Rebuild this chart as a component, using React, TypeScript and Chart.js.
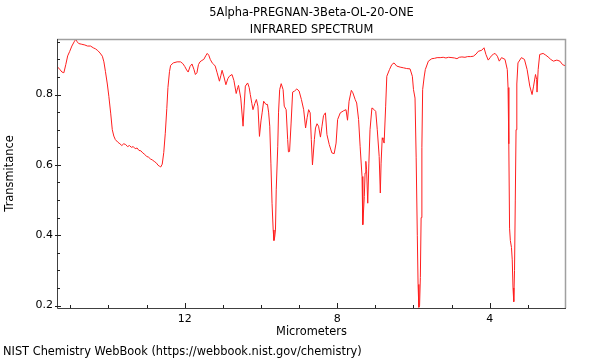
import { useEffect, useRef } from "react";
import { Chart, registerables } from "chart.js";

Chart.register(...registerables);

const wavelengths = [
  15.34, 15.28, 15.22, 15.17, 15.12, 15.07, 15.02, 14.96, 14.9, 14.86, 14.82, 14.78, 14.7, 14.62, 14.55, 14.47, 14.4, 14.34, 14.28, 14.22,
  14.16, 14.12, 14.08, 14.03, 13.99, 13.94, 13.9, 13.86, 13.82, 13.76, 13.7, 13.65, 13.6, 13.55, 13.5, 13.45, 13.4, 13.35, 13.3, 13.25,
  13.2, 13.15, 13.1, 13.05, 13.0, 12.95, 12.9, 12.85, 12.8, 12.74, 12.7, 12.66, 12.63, 12.59, 12.55, 12.51, 12.47, 12.44, 12.4, 12.37,
  12.3, 12.2, 12.11, 12.05, 12.0, 11.95, 11.91, 11.86, 11.81, 11.76, 11.72, 11.68, 11.64, 11.6, 11.55, 11.5, 11.45, 11.41, 11.37, 11.33,
  11.28, 11.24, 11.2, 11.15, 11.09, 11.05, 11.02, 10.97, 10.92, 10.87, 10.83, 10.76, 10.71, 10.65, 10.61, 10.59, 10.53, 10.47, 10.44, 10.41,
  10.35, 10.31, 10.28, 10.24, 10.21, 10.16, 10.12, 10.08, 10.04, 10.0, 9.97, 9.93, 9.87, 9.83, 9.8, 9.77, 9.74, 9.71, 9.68, 9.66,
  9.64, 9.62, 9.6, 9.56, 9.54, 9.51, 9.47, 9.42, 9.39, 9.34, 9.3, 9.28, 9.25, 9.21, 9.17, 9.12, 9.06, 9.0, 8.94, 8.88,
  8.83, 8.79, 8.75, 8.71, 8.68, 8.65, 8.6, 8.57, 8.53, 8.49, 8.44, 8.4, 8.36, 8.31, 8.27, 8.21, 8.14, 8.08, 8.03, 7.99,
  7.92, 7.83, 7.77, 7.73, 7.69, 7.63, 7.59, 7.53, 7.49, 7.44, 7.4, 7.35, 7.33, 7.29, 7.27, 7.25, 7.23, 7.2, 7.17, 7.14,
  7.09, 7.03, 6.99, 6.95, 6.9, 6.87, 6.85, 6.82, 6.8, 6.77, 6.73, 6.7, 6.63, 6.57, 6.51, 6.44, 6.35, 6.26, 6.18, 6.09,
  6.03, 6.0, 5.96, 5.93, 5.9, 5.88, 5.86, 5.84, 5.82, 5.8, 5.78, 5.76, 5.72, 5.69, 5.61, 5.52, 5.45, 5.38, 5.3, 5.22, 5.15, 5.08,
  4.99, 4.92, 4.86, 4.8, 4.73, 4.65, 4.58, 4.5, 4.43, 4.36, 4.3, 4.21, 4.15, 4.1, 4.04, 3.99, 3.95, 3.9, 3.86, 3.8,
  3.75, 3.69, 3.6, 3.54, 3.52, 3.5, 3.48, 3.46, 3.43, 3.41, 3.39, 3.37, 3.35, 3.33, 3.31, 3.29, 3.26, 3.17, 3.09, 3.02, 2.95, 2.89,
  2.85, 2.8, 2.77, 2.76, 2.73, 2.69, 2.6, 2.53, 2.47, 2.4, 2.33, 2.24, 2.16, 2.09, 2.02,
];

const transmittance = [
  0.879, 0.872, 0.864, 0.862, 0.885, 0.91, 0.922, 0.938, 0.95, 0.957, 0.95, 0.945, 0.943, 0.941, 0.938, 0.938, 0.933, 0.93, 0.925, 0.918,
  0.909, 0.893, 0.866, 0.83, 0.795, 0.745, 0.7, 0.682, 0.672, 0.665, 0.66, 0.655, 0.66, 0.658, 0.652, 0.655, 0.65, 0.652, 0.646, 0.648,
  0.641, 0.64, 0.634, 0.63, 0.624, 0.622, 0.617, 0.614, 0.61, 0.605, 0.599, 0.596, 0.594, 0.602, 0.635, 0.69, 0.76, 0.82, 0.865, 0.883,
  0.89, 0.893, 0.893, 0.888, 0.88, 0.87, 0.864, 0.88, 0.887, 0.872, 0.857, 0.862, 0.885, 0.893, 0.897, 0.9, 0.91, 0.917, 0.912, 0.9,
  0.89, 0.886, 0.881, 0.862, 0.838, 0.855, 0.869, 0.85, 0.828, 0.845, 0.852, 0.857, 0.84, 0.803, 0.82, 0.826, 0.79, 0.71, 0.77, 0.824,
  0.833, 0.82, 0.8, 0.775, 0.757, 0.775, 0.786, 0.767, 0.681, 0.725, 0.748, 0.781, 0.772, 0.772, 0.75, 0.71, 0.605, 0.491, 0.415, 0.385,
  0.395, 0.415, 0.529, 0.653, 0.748, 0.814, 0.831, 0.814, 0.767, 0.757, 0.672, 0.637, 0.638, 0.719, 0.807, 0.81, 0.816, 0.81, 0.786, 0.757,
  0.705, 0.734, 0.757, 0.748, 0.672, 0.6, 0.672, 0.705, 0.717, 0.71, 0.679, 0.71, 0.74, 0.748, 0.686, 0.658, 0.634, 0.632, 0.662, 0.729,
  0.748, 0.754, 0.757, 0.727, 0.781, 0.812, 0.805, 0.786, 0.776, 0.729, 0.653, 0.567, 0.43, 0.51, 0.577, 0.61, 0.586, 0.491, 0.605, 0.7,
  0.762, 0.757, 0.752, 0.7, 0.624, 0.52, 0.605, 0.677, 0.672, 0.662, 0.767, 0.852, 0.871, 0.885, 0.89, 0.881, 0.878, 0.876, 0.874, 0.873,
  0.852, 0.814, 0.79, 0.62, 0.4, 0.26, 0.195, 0.2, 0.28, 0.45, 0.65, 0.814, 0.85, 0.871, 0.895, 0.902, 0.903, 0.905, 0.905, 0.906, 0.904, 0.906,
  0.905, 0.904, 0.902, 0.906, 0.907, 0.906, 0.908, 0.908, 0.909, 0.915, 0.923, 0.926, 0.933, 0.914, 0.898, 0.905, 0.911, 0.915, 0.917, 0.909,
  0.895, 0.905, 0.9, 0.871, 0.82, 0.66, 0.42, 0.385, 0.365, 0.33, 0.25, 0.211, 0.3, 0.5, 0.7, 0.83, 0.89, 0.905, 0.9, 0.871, 0.824, 0.8,
  0.824, 0.857, 0.843, 0.807, 0.871, 0.914, 0.917, 0.912, 0.907, 0.9, 0.895, 0.898, 0.895, 0.885, 0.882,
];

const xTickValues = [12, 8, 4];
const xMinorTickValues = [3, 5, 6, 7, 9, 10, 11, 13, 14, 15];
const yTickValues = [0.2, 0.4, 0.6, 0.8];
const yMinorTickValues = [0.25, 0.3, 0.35, 0.45, 0.5, 0.55, 0.65, 0.7, 0.75, 0.85, 0.9, 0.95];
const titleLines = ["5Alpha-PREGNAN-3Beta-OL-20-ONE", "INFRARED SPECTRUM"];
const xTitle = "Micrometers";
const yTitle = "Transmitance";
const footerText = "NIST Chemistry WebBook (https://webbook.nist.gov/chemistry)";

const FAMILY = "'DejaVu Sans', sans-serif";

export default function App() {
  const ref = useRef<HTMLCanvasElement>(null);

  useEffect(() => {
    document.body.style.margin = "0";
    const canvas = ref.current;
    if (!canvas) return;

    const decor = {
      id: "decor",
      afterDatasetsDraw(chart: any) {
        const { ctx, chartArea } = chart;
        const { left, right, top, bottom } = chartArea;
        const xs = chart.scales.x;
        const ys = chart.scales.y;
        ctx.save();
        ctx.strokeStyle = "#a0a0a0";
        ctx.lineWidth = 1.5;
        ctx.beginPath();
        ctx.moveTo(left, top + 0.5);
        ctx.lineTo(right - 0.5, top + 0.5);
        ctx.lineTo(right - 0.5, bottom);
        ctx.stroke();
        ctx.strokeStyle = "#404040";
        ctx.lineWidth = 1;
        ctx.beginPath();
        ctx.moveTo(left + 0.5, top);
        ctx.lineTo(left + 0.5, bottom + 0.5);
        ctx.lineTo(right, bottom + 0.5);
        ctx.stroke();
        ctx.strokeStyle = "#202020";
        ctx.beginPath();
        for (const v of xTickValues) {
          const px = Math.round(xs.getPixelForValue(v)) + 0.5;
          ctx.moveTo(px, bottom);
          ctx.lineTo(px, bottom - 5);
        }
        for (const v of xMinorTickValues) {
          const px = Math.round(xs.getPixelForValue(v)) + 0.5;
          ctx.moveTo(px, bottom);
          ctx.lineTo(px, bottom - 3);
        }
        for (const v of yTickValues) {
          const py = Math.round(ys.getPixelForValue(v)) + 0.5;
          ctx.moveTo(left - 2, py);
          ctx.lineTo(left + 4, py);
        }
        for (const v of yMinorTickValues) {
          const py = Math.round(ys.getPixelForValue(v)) + 0.5;
          ctx.moveTo(left, py);
          ctx.lineTo(left + 3, py);
        }
        ctx.stroke();
        ctx.restore();
      },
      afterDraw(chart: any) {
        const { ctx, chartArea } = chart;
        ctx.save();
        ctx.fillStyle = "#000";
        ctx.font = `11.4px ${FAMILY}`;
        ctx.textAlign = "center";
        ctx.textBaseline = "middle";
        const cx = (chartArea.left + chartArea.right) / 2;
        ctx.fillText(titleLines[0], cx, 13);
        ctx.fillText(titleLines[1], cx, 30);
        ctx.textAlign = "left";
        ctx.fillText(footerText, 3, 352);
        ctx.restore();
      },
    };

    const chart = new Chart(canvas, {
      type: "line",
      data: {
        datasets: [
          {
            data: wavelengths.map((x, i) => ({ x, y: transmittance[i] })),
            borderColor: "rgb(255,30,30)",
            borderWidth: 1,
            pointRadius: 0,
            tension: 0,
            fill: false,
          },
        ],
      },
      options: {
        animation: false,
        responsive: false,
        layout: { padding: { top: 39, right: 34, left: 0, bottom: 0 } },
        plugins: {
          legend: { display: false },
          tooltip: { enabled: false },
          title: { display: false },
        },
        scales: {
          x: {
            type: "linear",
            reverse: true,
            min: 2.0,
            max: 15.35,
            afterFit: (s: any) => {
              s.height = 52;
            },
            afterBuildTicks: (s: any) => {
              s.ticks = xTickValues.map((v) => ({ value: v }));
            },
            grid: { display: false, drawTicks: false },
            border: { display: false },
            ticks: {
              color: "#000",
              font: { family: FAMILY, size: 11 },
              padding: 5,
              maxRotation: 0,
              autoSkip: false,
              callback: (v: any) => String(v),
            },
            title: {
              display: true,
              text: xTitle,
              color: "#000",
              font: { family: FAMILY, size: 11.4 },
              padding: { top: 0, bottom: 21 },
            },
          },
          y: {
            type: "linear",
            min: 0.193,
            max: 0.958,
            afterFit: (s: any) => {
              s.width = 57;
            },
            afterBuildTicks: (s: any) => {
              s.ticks = yTickValues.map((v) => ({ value: v }));
            },
            grid: { display: false, drawTicks: false },
            border: { display: false },
            ticks: {
              color: "#000",
              font: { family: FAMILY, size: 11 },
              padding: 4,
              callback: (v: any) => String(v),
            },
            title: {
              display: true,
              text: yTitle,
              color: "#000",
              font: { family: FAMILY, size: 11.4 },
              padding: { top: 3, bottom: 0 },
            },
          },
        },
      },
      plugins: [decor],
    });

    return () => chart.destroy();
  }, []);

  return <canvas ref={ref} width={600} height={360} style={{ display: "block" }} />;
}
